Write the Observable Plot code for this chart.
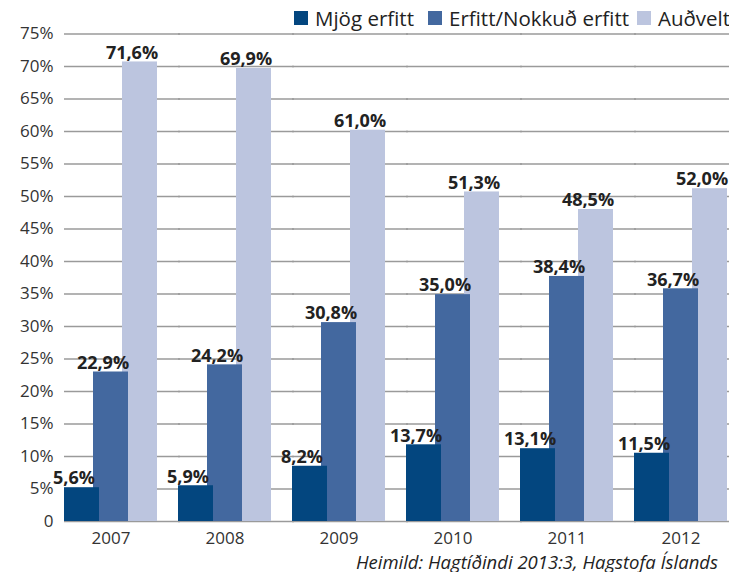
<!DOCTYPE html>
<html>
<head>
<meta charset="utf-8">
<script src="https://cdn.jsdelivr.net/npm/d3@7"></script>
<script src="https://cdn.jsdelivr.net/npm/@observablehq/plot@0.6"></script>
<style>
  html, body { margin: 0; padding: 0; background: #fff; overflow: hidden; }
  #wrap { position: relative; width: 729px; height: 572px; font-family: "Open Sans", sans-serif; }
  #legend { position: absolute; top: 4px; left: 294px; display: flex; align-items: center; font-size: 20.5px; color: #222; white-space: nowrap; }
  #legend .sw { width: 14px; height: 14px; display: inline-block; margin-right: 7px; }
  #legend .item { display: flex; align-items: center; }
  #caption { font-style: italic; font-size: 18.5px; line-height: 25px; margin-top: 0.5px; color: #222; text-align: right; padding-right: 11px; white-space: nowrap; }
</style>
</head>
<body>
<div id="wrap">
  <div id="chart"></div>
  <div id="legend"></div>
  <div id="caption"></div>
</div>
<script>
// ---- data ----
const years = ["2007", "2008", "2009", "2010", "2011", "2012"];
const series = ["Mjög erfitt", "Erfitt/Nokkuð erfitt", "Auðvelt"];
const colors = ["#03467f", "#43689f", "#bcc5df"];

// bar heights as drawn (percent)
const mjogValues    = [5.2, 5.5, 8.5, 11.8, 11.2, 10.5];
const erfittValues  = [23.0, 24.1, 30.6, 34.9, 37.7, 35.8];
const audveltValues = [70.7, 69.7, 60.2, 50.7, 48.0, 51.2];

// printed data labels
const mjogLabels    = ["5,6%", "5,9%", "8,2%", "13,7%", "13,1%", "11,5%"];
const erfittLabels  = ["22,9%", "24,2%", "30,8%", "35,0%", "38,4%", "36,7%"];
const audveltLabels = ["71,6%", "69,9%", "61,0%", "51,3%", "48,5%", "52,0%"];

const yTicks = [0, 5, 10, 15, 20, 25, 30, 35, 40, 45, 50, 55, 60, 65, 70, 75];
const caption = "Heimild: Hagtíðindi 2013:3, Hagstofa Íslands";

// ---- table (back-to-front draw order) ----
const bySeries = [
  [series[2], audveltValues, audveltLabels],
  [series[1], erfittValues, erfittLabels],
  [series[0], mjogValues, mjogLabels]
];
const rows = [];
for (const [s, vals, labs] of bySeries) {
  years.forEach((y, i) => rows.push({year: y, series: s, value: vals[i], label: labs[i]}));
}

const chart = Plot.plot({
  width: 729,
  height: 548,
  marginLeft: 66,
  marginRight: 5,
  marginTop: 33.5,
  marginBottom: 27,
  style: {fontFamily: "Open Sans", fontSize: "17px", color: "#333", background: "#fff", overflow: "visible"},
  facet: {data: rows, x: "year"},
  fx: {domain: years, paddingInner: 0.2382, paddingOuter: 0, label: null, tickSize: 0, tickPadding: 10, axis: "bottom"},
  x: {domain: series, padding: 0, axis: null},
  y: {domain: [0, 75], ticks: yTicks, tickFormat: d => d === 0 ? "0" : d + "%", tickSize: 0, tickPadding: 14, label: null},
  color: {domain: series, range: colors},
  marks: [
    Plot.ruleY(yTicks, {stroke: "#9a9a9a", strokeWidth: 1.3, insetLeft: -3, insetRight: -26}),
    Plot.barY(rows, {x: "series", y: "value", fill: "series", insetLeft: -3, insetRight: -3}),
    Plot.text(rows, {x: "series", y: "value", text: "label", dx: -8, dy: -9, fontWeight: "bold", fontSize: 18, fill: "#222"})
  ]
});
document.getElementById("chart").appendChild(chart);

// legend
const legend = document.getElementById("legend");
const gaps = [14, 8];
series.forEach((s, i) => {
  const item = document.createElement("span");
  item.className = "item";
  if (i < series.length - 1) item.style.marginRight = gaps[i] + "px";
  const sw = document.createElement("span");
  sw.className = "sw";
  sw.style.background = colors[i];
  const t = document.createElement("span");
  t.textContent = s;
  item.appendChild(sw);
  item.appendChild(t);
  legend.appendChild(item);
});
document.getElementById("caption").textContent = caption;
</script>
</body>
</html>
